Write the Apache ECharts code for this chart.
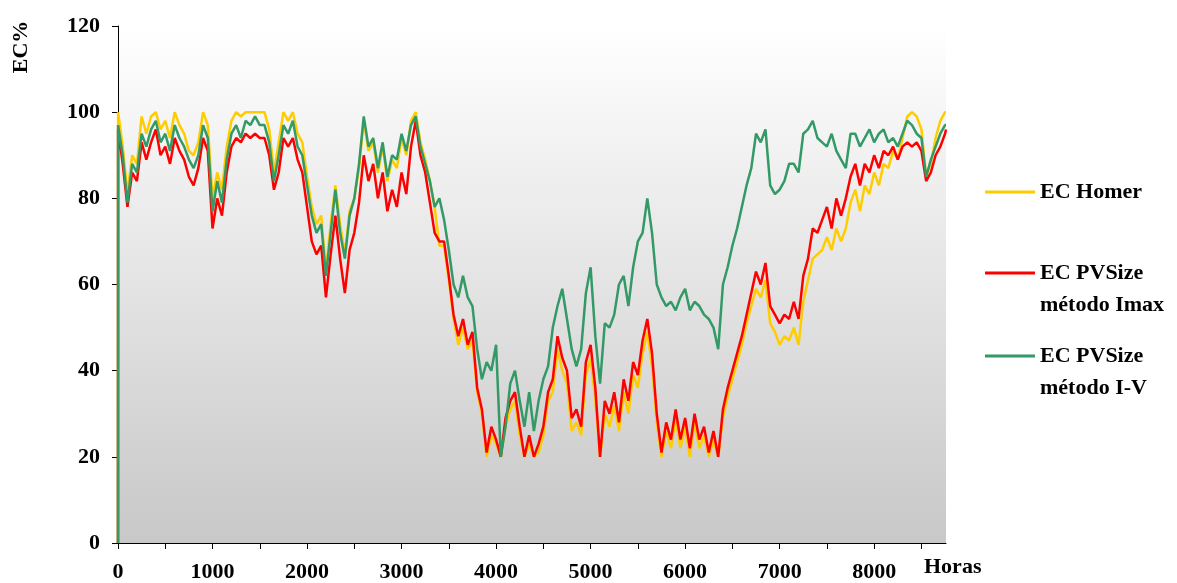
<!DOCTYPE html>
<html>
<head>
<meta charset="utf-8">
<script src="https://cdn.jsdelivr.net/npm/echarts@6/dist/echarts.min.js"></script>
<style>
  html, body { margin: 0; padding: 0; background: #ffffff; }
  #chart { width: 1177px; height: 583px; }
</style>
</head>
<body>
<div id="chart"></div>
<script>
// Sample hours: start of the year, then one reading every 50 h, up to hour 8760
const HOURS = [0, 1];
for (let h = 50; h <= 8750; h += 50) HOURS.push(h);
HOURS.push(8760);

// EC Homer (%)
const EC_HOMER = [
  0, 100,
  92, 81, 90, 88, 99, 95, 99, 100, 96, 98,
  94, 100, 97, 95, 91, 90, 93, 100, 97, 80,
  86, 82, 92, 98, 100, 99, 100, 100, 100, 100,
  100, 96, 86, 93, 100, 98, 100, 95, 93, 85,
  78, 74, 76, 63, 74, 83, 74, 67, 77, 80,
  87, 98, 91, 93, 86, 92, 84, 89, 87, 94,
  90, 98, 100, 93, 89, 84, 78, 69, 69, 61,
  52, 46, 50, 45, 47, 35, 30, 20, 25, 23,
  20, 27, 31, 33, 25, 20, 23, 20, 21, 25,
  33, 35, 45, 40, 37, 26, 28, 25, 39, 43,
  33, 20, 30, 27, 32, 26, 35, 30, 39, 36,
  44, 49, 41, 28, 20, 26, 22, 29, 22, 27,
  20, 28, 22, 25, 20, 24, 20, 29, 34, 38,
  42, 46, 51, 55, 59, 57, 61, 51, 49, 46,
  48, 47, 50, 46, 56, 61, 66, 67, 68, 71,
  68, 73, 70, 73, 79, 82, 77, 83, 81, 86,
  83, 88, 87, 91, 89, 94, 99, 100, 99, 96,
  85, 88, 94, 98, 100,
  100
];

// EC PVSize, método Imax (%)
const EC_IMAX = [
  0, 96,
  88, 78, 86, 84, 93, 89, 93, 96, 90, 92,
  88, 94, 91, 89, 85, 83, 87, 94, 91, 73,
  80, 76, 86, 92, 94, 93, 95, 94, 95, 94,
  94, 90, 82, 86, 94, 92, 94, 89, 86, 78,
  70, 67, 69, 57, 67, 76, 66, 58, 68, 72,
  79, 90, 84, 88, 80, 86, 77, 82, 78, 86,
  81, 92, 98, 90, 86, 79, 72, 70, 70, 62,
  53, 48, 52, 46, 49, 36, 31, 21, 27, 24,
  20, 29, 33, 35, 27, 20, 25, 20, 23, 27,
  35, 38, 48, 43, 40, 29, 31, 27, 42, 46,
  36, 20, 33, 30, 35, 28, 38, 33, 42, 39,
  47, 52, 44, 30, 21, 28, 24, 31, 24, 29,
  22, 30, 24, 27, 21, 26, 20, 31, 36, 40,
  44, 48, 53, 58, 63, 60, 65, 55, 53, 51,
  53, 52, 56, 52, 62, 66, 73, 72, 75, 78,
  73, 80, 76, 80, 85, 88, 83, 88, 86, 90,
  87, 91, 90, 92, 89, 92, 93, 92, 93, 91,
  84, 86, 90, 92, 95,
  96
];

// EC PVSize, método I-V (%)
const EC_IV = [
  0, 97,
  90, 79, 88, 86, 95, 92, 96, 98, 93, 95,
  91, 97, 94, 92, 89, 87, 90, 97, 94, 77,
  84, 79, 89, 95, 97, 94, 98, 97, 99, 97,
  97, 93, 84, 90, 97, 95, 98, 92, 90, 83,
  76, 72, 74, 62, 72, 82, 72, 66, 76, 80,
  88, 99, 92, 94, 87, 93, 85, 90, 89, 95,
  91, 97, 99, 92, 88, 84, 78, 80, 75, 68,
  60, 57, 62, 57, 55, 45, 38, 42, 40, 46,
  20, 27, 37, 40, 33, 27, 35, 26, 33, 38,
  41, 50, 55, 59, 52, 45, 41, 45, 58, 64,
  48, 37, 51, 50, 53, 60, 62, 55, 64, 70,
  72, 80, 72, 60, 57, 55, 56, 54, 57, 59,
  54, 56, 55, 53, 52, 50, 45, 60, 64, 69,
  73, 78, 83, 87, 95, 93, 96, 83, 81, 82,
  84, 88, 88, 86, 95, 96, 98, 94, 93, 92,
  95, 91, 89, 87, 95, 95, 92, 94, 96, 93,
  95, 96, 93, 94, 92, 95, 98, 97, 95, 94,
  85, 89, 92, 95, 97,
  97
];

const SERIES_NAMES = ['EC Homer', 'EC PVSize método Imax', 'EC PVSize método I-V'];
const SERIES_COLORS = ['#ffcc00', '#ff0000', '#339966'];

const X_TICKS = [0, 500, 1000, 1500, 2000, 2500, 3000, 3500, 4000, 4500, 5000, 5500, 6000, 6500, 7000, 7500, 8000, 8500];
const X_LABELS = [0, 1000, 2000, 3000, 4000, 5000, 6000, 7000, 8000];

const FONT = '"Liberation Serif", "Times New Roman", serif';

function pairs(values) {
  return HOURS.map((h, i) => [h, values[i]]);
}

const chart = echarts.init(document.getElementById('chart'), null, { renderer: 'canvas' });

const legendBase = {
  orient: 'vertical',
  left: 985,
  padding: 0,
  icon: 'rect',
  itemWidth: 50,
  itemHeight: 3,
  selectedMode: false,
  textStyle: { fontFamily: FONT, fontWeight: 'bold', fontSize: 22, color: '#000', lineHeight: 32 }
};

chart.setOption({
  animation: false,
  backgroundColor: '#ffffff',
  grid: {
    left: 118, right: 231, top: 26, bottom: 39,
    show: true,
    borderWidth: 0,
    backgroundColor: new echarts.graphic.LinearGradient(0, 0, 0, 1, [
      { offset: 0, color: '#ffffff' },
      { offset: 1, color: '#c8c8c8' }
    ])
  },
  legend: [
    Object.assign({}, legendBase, { top: 176, data: [SERIES_NAMES[0]] }),
    Object.assign({}, legendBase, {
      top: 225, data: [SERIES_NAMES[1]],
      formatter: () => '\u00a0\nEC PVSize\nmétodo Imax'
    }),
    Object.assign({}, legendBase, {
      top: 308, data: [SERIES_NAMES[2]],
      formatter: () => '\u00a0\nEC PVSize\nmétodo I-V'
    })
  ],
  graphic: [{
    type: 'text',
    x: 21, y: 47,
    rotation: Math.PI / 2,
    style: {
      text: 'EC%',
      font: 'bold 22px ' + FONT,
      fill: '#000',
      align: 'center',
      verticalAlign: 'middle'
    }
  }],
  xAxis: {
    type: 'value',
    min: 0, max: 8760, interval: 500,
    name: 'Horas',
    nameLocation: 'end',
    nameGap: -22,
    nameTextStyle: {
      fontFamily: FONT, fontWeight: 'bold', fontSize: 22, color: '#000',
      align: 'left', verticalAlign: 'top', padding: [13, 0, 0, 0]
    },
    splitLine: { show: false },
    axisLine: { show: true, onZero: false, lineStyle: { color: '#000', width: 1 } },
    axisTick: { show: true, length: 6, customValues: X_TICKS, lineStyle: { color: '#000' } },
    axisLabel: {
      customValues: X_LABELS,
      formatter: (v) => String(v),
      margin: 18,
      fontFamily: FONT, fontWeight: 'bold', fontSize: 22, color: '#000'
    }
  },
  yAxis: {
    type: 'value',
    min: 0, max: 120, interval: 20,
    splitLine: { show: false },
    axisLine: { show: true, lineStyle: { color: '#000', width: 1 } },
    axisTick: { show: true, length: 6, lineStyle: { color: '#000' } },
    axisLabel: {
      margin: 18,
      formatter: (v) => String(v),
      fontFamily: FONT, fontWeight: 'bold', fontSize: 22, color: '#000'
    }
  },
  series: [EC_HOMER, EC_IMAX, EC_IV].map((vals, i) => ({
    name: SERIES_NAMES[i],
    type: 'line',
    data: pairs(vals),
    showSymbol: false,
    symbol: 'none',
    color: SERIES_COLORS[i],
    lineStyle: { color: SERIES_COLORS[i], width: 2.5 },
    itemStyle: { color: SERIES_COLORS[i] },
    z: 2 + i
  }))
});
</script>
</body>
</html>
